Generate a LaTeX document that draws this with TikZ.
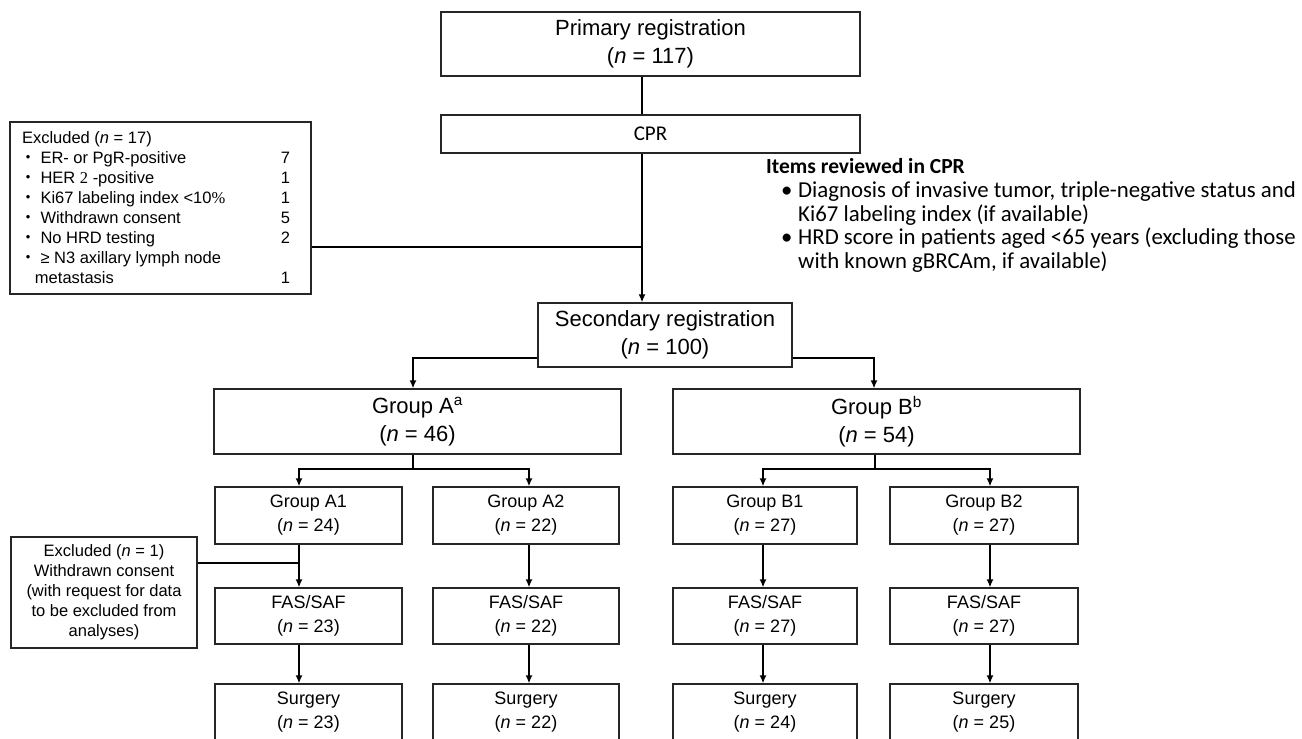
\documentclass[tikz,border=0pt]{standalone}
\usepackage{fontspec}
\setmainfont{Liberation Sans}
\newfontfamily\carl{Carlito}
\newfontfamily\sernum{Liberation Serif}
\newfontfamily\jpfont{Noto Sans CJK JP}
\usetikzlibrary{arrows.meta}
\newcommand{\exitem}[2]{\makebox[268pt][l]{\hspace*{-2pt}{\jpfont ・}\hspace*{4pt}#1\hfill #2}\hspace*{9pt}}
\begin{document}
\begin{tikzpicture}[x=1pt,y=-1pt,
  box/.style={draw=black!85, line width=1.2pt, inner sep=0pt, align=center, fill=white},
  big/.style={font=\fontsize{22}{28}\selectfont},
  mid/.style={font=\fontsize{18}{24}\selectfont},
  small/.style={font=\fontsize{16.5}{20}\selectfont},
  conn/.style={line width=1.6pt, black},
  arr/.style={conn, -{Latex[length=8pt,width=7pt]}}]
\useasboundingbox (0,0) rectangle (1302,739);
\clip (0,0) rectangle (1302,739);
% top
\node[box,big,minimum width=419pt,minimum height=64pt] (prim) at (650.5,44) {Primary registration\\(\textit{n} = 117)};
\node[box,minimum width=419pt,minimum height=38pt,font=\carl\fontsize{21}{24}\selectfont] (cpr) at (650.5,134) {CPR};
\node[box,small,minimum width=301pt,minimum height=172pt,align=left] (excl) at (160.5,208) {%
\makebox[268pt][l]{Excluded (\textit{n} = 17)}\hspace*{9pt}\\
\exitem{ER- or PgR-positive}{7}\\
\exitem{HER {\sernum 2} -positive}{1}\\
\exitem{Ki67 labeling index <10{\sernum\%}}{1}\\
\exitem{Withdrawn consent}{5}\\
\exitem{No HRD testing}{2}\\
\exitem{≥ N3 axillary lymph node}{}\\
\makebox[268pt][l]{\hspace*{13pt}metastasis\hfill 1}\hspace*{9pt}};
\node[anchor=north west, inner sep=0pt, align=left, font=\carl\fontsize{22.8}{23.7}\selectfont] (items) at (766,158.5) {%
{\fontsize{21.5}{23.7}\selectfont\bfseries Items reviewed in CPR}\\
\hspace*{15pt}\makebox[17pt][l]{•}Diagnosis of invasive tumor, triple-negative status and\\
\hspace*{32pt}Ki67 labeling index (if available)\\
\hspace*{15pt}\makebox[17pt][l]{•}HRD score in patients aged <65 years (excluding those\\
\hspace*{32pt}with known gBRCAm, if available)};
\node[box,big,minimum width=254pt,minimum height=64pt] (sec) at (665,335) {Secondary registration\\(\textit{n} = 100)};
% groups
\node[box,big,minimum width=407pt,minimum height=65pt] (gA) at (417.5,421.5) {Group A\textsuperscript{a}\\(\textit{n} = 46)};
\node[box,big,minimum width=407pt,minimum height=65pt] (gB) at (876.5,421.5) {Group B\textsuperscript{b}\\(\textit{n} = 54)};
% subgroups
\node[box,mid,minimum width=187pt,minimum height=57pt] (A1) at (308.5,515.5) {Group A1\\(\textit{n} = 24)};
\node[box,mid,minimum width=186pt,minimum height=57pt] (A2) at (526,515.5) {Group A2\\(\textit{n} = 22)};
\node[box,mid,minimum width=184pt,minimum height=57pt] (B1) at (765,515.5) {Group B1\\(\textit{n} = 27)};
\node[box,mid,minimum width=188pt,minimum height=57pt] (B2) at (984,515.5) {Group B2\\(\textit{n} = 27)};
\node[box,mid,minimum width=187pt,minimum height=56pt] (F1) at (308.5,616) {FAS/SAF\\(\textit{n} = 23)};
\node[box,mid,minimum width=186pt,minimum height=56pt] (F2) at (526,616) {FAS/SAF\\(\textit{n} = 22)};
\node[box,mid,minimum width=184pt,minimum height=56pt] (F3) at (765,616) {FAS/SAF\\(\textit{n} = 27)};
\node[box,mid,minimum width=188pt,minimum height=56pt] (F4) at (984,616) {FAS/SAF\\(\textit{n} = 27)};
\node[box,mid,minimum width=187pt,minimum height=56pt] (S1) at (308.5,712) {Surgery\\(\textit{n} = 23)};
\node[box,mid,minimum width=186pt,minimum height=56pt] (S2) at (526,712) {Surgery\\(\textit{n} = 22)};
\node[box,mid,minimum width=184pt,minimum height=56pt] (S3) at (765,712) {Surgery\\(\textit{n} = 24)};
\node[box,mid,minimum width=188pt,minimum height=56pt] (S4) at (984,712) {Surgery\\(\textit{n} = 25)};
\node[box,small,minimum width=186pt,minimum height=111pt] (ex2) at (104,592.5) {Excluded (\textit{n} = 1)\\Withdrawn consent\\(with request for data\\to be excluded from\\analyses)};
% connectors
\coordinate (trunk) at (642,0);
\coordinate (j1) at (642,247);
\coordinate (lA) at (413,358);
\coordinate (rB) at (874,358);
\coordinate (sA) at (413,469);
\coordinate (sB) at (875,469);
\coordinate (a1x) at (299,0);
\coordinate (a2x) at (529,0);
\coordinate (b1x) at (763,0);
\coordinate (b2x) at (990,0);
\coordinate (j2) at (299,563);
\draw[conn] (prim.south -| trunk) -- (cpr.north -| trunk);
\draw[arr] (cpr.south -| trunk) -- (sec.north -| trunk);
\draw[conn] (excl.east |- j1) -- (j1);
\draw[arr] (sec.west |- lA) -| (gA.north -| lA);
\draw[arr] (sec.east |- rB) -| (gB.north -| rB);
\draw[conn] (gA.south -| sA) -- (sA);
\draw[arr] (sA) -| (A1.north -| a1x);
\draw[arr] (sA) -| (A2.north -| a2x);
\draw[conn] (gB.south -| sB) -- (sB);
\draw[arr] (sB) -| (B1.north -| b1x);
\draw[arr] (sB) -| (B2.north -| b2x);
\draw[arr] (A1.south -| a1x) -- (F1.north -| a1x);
\draw[arr] (A2.south -| a2x) -- (F2.north -| a2x);
\draw[arr] (B1.south -| b1x) -- (F3.north -| b1x);
\draw[arr] (B2.south -| b2x) -- (F4.north -| b2x);
\draw[arr] (F1.south -| a1x) -- (S1.north -| a1x);
\draw[arr] (F2.south -| a2x) -- (S2.north -| a2x);
\draw[arr] (F3.south -| b1x) -- (S3.north -| b1x);
\draw[arr] (F4.south -| b2x) -- (S4.north -| b2x);
\draw[conn] (ex2.east |- j2) -- (j2);
\end{tikzpicture}
\end{document}
